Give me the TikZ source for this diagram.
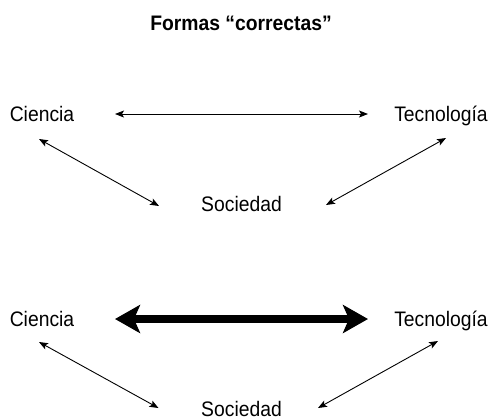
\documentclass[tikz,border=0pt]{standalone}
\usepackage{fontspec}
\setmainfont{Liberation Sans}[FakeStretch=0.92]
\usetikzlibrary{arrows.meta,calc}
\begin{document}
\begin{tikzpicture}[x=1bp,y=-1bp,
  lbl/.style={inner sep=0pt,outer sep=0pt,text height=15bp,text depth=0pt,font=\fontsize{21bp}{25bp}\selectfont},
  ttl/.style={lbl,font=\fontsize{21bp}{25bp}\selectfont\bfseries},
  thinarr/.style={line width=0.9bp,{Stealth[length=9bp,width=7bp,inset=2bp]}-{Stealth[length=9bp,width=7bp,inset=2bp]}},
  thickarr/.style={line width=8bp,{Stealth[length=25bp,width=28bp,inset=6bp]}-{Stealth[length=25bp,width=28bp,inset=6bp]}}]
\useasboundingbox (0,0) rectangle (491,419);
\node[ttl] (title) at (241,22.5) {Formas “correctas”};
% top group
\node[lbl] (C1) at (42,113.5) {Ciencia};
\node[lbl] (T1) at (441,113.5) {Tecnología};
\node[lbl] (S1) at (241.5,203.5) {Sociedad};
\draw[thinarr] ($(C1)+(73,0.5)$) -- ($(T1)+(-73,0.5)$);
\draw[thinarr] ($(C1)+(-3,25.5)$) -- ($(S1)+(-82.5,2.5)$);
\draw[thinarr] ($(T1)+(5,24.5)$) -- ($(S1)+(84.5,1.5)$);
% bottom group
\node[lbl] (C2) at (42,318.5) {Ciencia};
\node[lbl] (T2) at (441,318.5) {Tecnología};
\node[lbl] (S2) at (241.5,408.5) {Sociedad};
\draw[thickarr] ($(C2)+(73,0.5)$) -- ($(T2)+(-73,0.5)$);
\draw[thinarr] ($(C2)+(-3,23.5)$) -- ($(S2)+(-83,-0.5)$);
\draw[thinarr] ($(T2)+(-3,22.5)$) -- ($(S2)+(76.5,-0.5)$);
\end{tikzpicture}
\end{document}
